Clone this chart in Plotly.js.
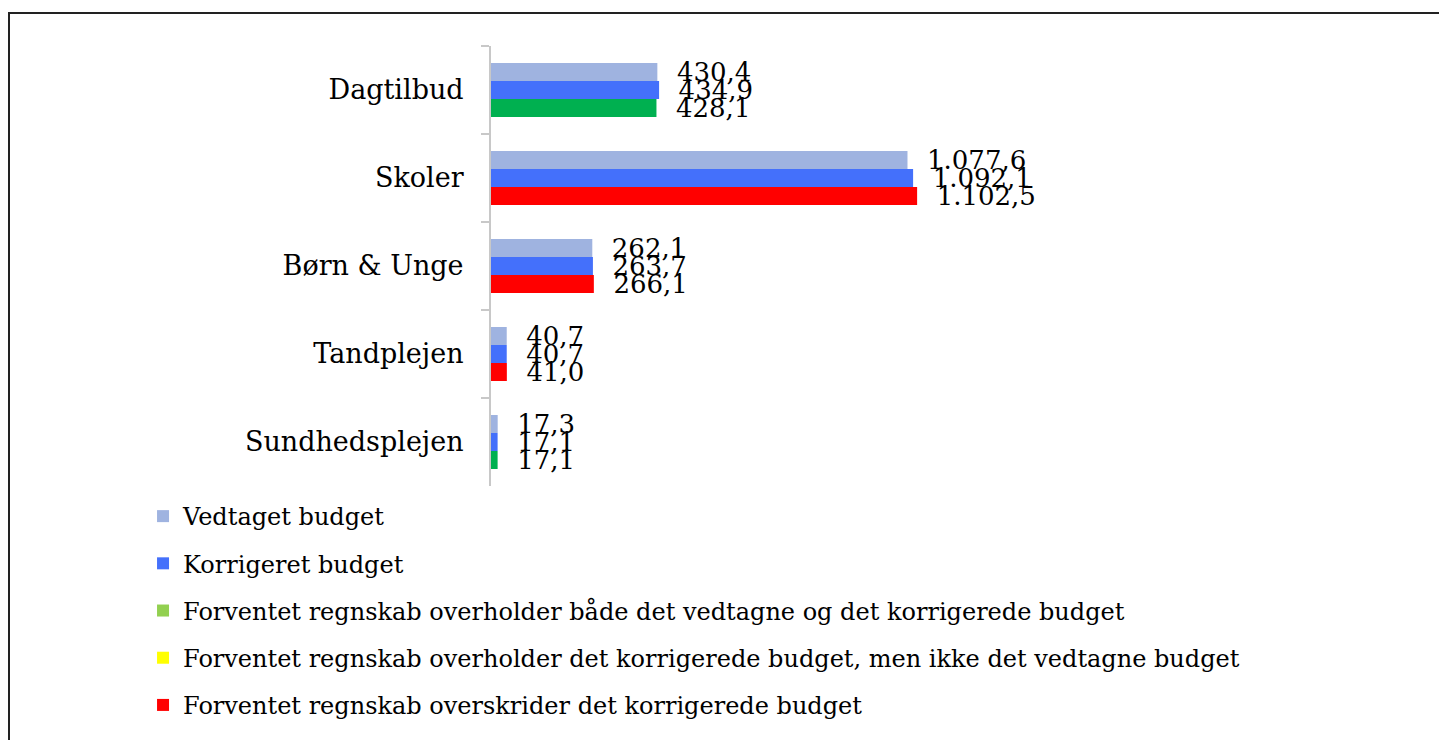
<!DOCTYPE html>
<html>
<head>
<meta charset="utf-8">
<script src="https://cdn.plot.ly/plotly-3.0.1.min.js"></script>
<style>
  html, body { margin: 0; padding: 0; background: #fff; overflow: hidden; }
  #chart { width: 1439px; height: 740px; }
  #frame { position: absolute; left: 8px; top: 12px; width: 1500px; height: 800px;
           border-left: 2px solid #222; border-top: 2px solid #222; pointer-events: none; }
</style>
</head>
<body>
<div id="chart"></div>
<div id="frame"></div>
<script>
const categories = ["Dagtilbud", "Skoler", "Børn & Unge", "Tandplejen", "Sundhedsplejen"];
const vedtaget = [430.4, 1077.6, 262.1, 40.7, 17.3];
const korrigeret = [434.9, 1092.1, 263.7, 40.7, 17.1];
const forventet = [428.1, 1102.5, 266.1, 41.0, 17.1];
const forventetStatus = ["ok", "over", "over", "over", "ok"];
const seriesNames = ["Vedtaget budget", "Korrigeret budget"];
const statusNames = [
  "Forventet regnskab overholder både det vedtagne og det korrigerede budget",
  "Forventet regnskab overholder det korrigerede budget, men ikke det vedtagne budget",
  "Forventet regnskab overskrider det korrigerede budget"
];

const FONT = "DejaVu Serif, serif";
const barColors = { ok: "#00b050", mid: "#ffff00", over: "#ff0000" };
const legendColors = ["#92d050", "#ffff00", "#ff0000"];

function barTrace(name, vals, color, showlegend, group) {
  return {
    type: "bar", orientation: "h", name: name,
    y: categories, x: vals,
    marker: { color: color },
    text: vals, texttemplate: "  %{x:,.1f}", textposition: "outside",
    textfont: { family: FONT, size: 26, color: "#000" },
    constraintext: "none", cliponaxis: false,
    showlegend: showlegend, legendgroup: group, hoverinfo: "x+y"
  };
}

const traces = [
  barTrace(seriesNames[0], vedtaget, "#9fb3e0", true, "g1"),
  barTrace(seriesNames[1], korrigeret, "#4470fb", true, "g2"),
  barTrace("Forventet regnskab", forventet, forventetStatus.map(s => barColors[s]), false, "g3")
];
statusNames.forEach((n, i) => {
  traces.push({
    type: "bar", orientation: "h", name: n, x: [0], y: [n],
    xaxis: "x2", yaxis: "y2", marker: { color: legendColors[i] },
    showlegend: true, legendgroup: "s" + i, hoverinfo: "skip"
  });
});

const layout = {
  width: 1439, height: 740,
  paper_bgcolor: "#fff", plot_bgcolor: "#fff",
  separators: ",.",
  barmode: "group", bargap: 0.386, bargroupgap: 0,
  margin: { l: 491, r: 175, t: 46, b: 254, autoexpand: false },
  font: { family: FONT, color: "#000" },
  xaxis: { range: [0, 2000], visible: false, fixedrange: true },
  yaxis: {
    autorange: "reversed", showline: true, linecolor: "#c8c8c8", linewidth: 2,
    ticks: "outside", tickson: "boundaries", ticklen: 8, tickcolor: "#c8c8c8", tickwidth: 2,
    tickfont: { family: FONT, size: 27, color: "#000" }, ticklabelstandoff: 20,
    showgrid: false, zeroline: false
  },
  xaxis2: { overlaying: "x", visible: false, range: [0, 1] },
  yaxis2: { overlaying: "y", visible: false },
  showlegend: true,
  legend: {
    orientation: "v", xref: "container", yref: "container",
    x: 0.0994, xanchor: "left", y: 0.3324, yanchor: "top",
    traceorder: "grouped", tracegroupgap: 13,
    font: { family: FONT, size: 24, color: "#000" },
    itemwidth: 30, bgcolor: "rgba(0,0,0,0)"
  }
};

Plotly.newPlot("chart", traces, layout, { displayModeBar: false, staticPlot: true });
</script>
</body>
</html>
